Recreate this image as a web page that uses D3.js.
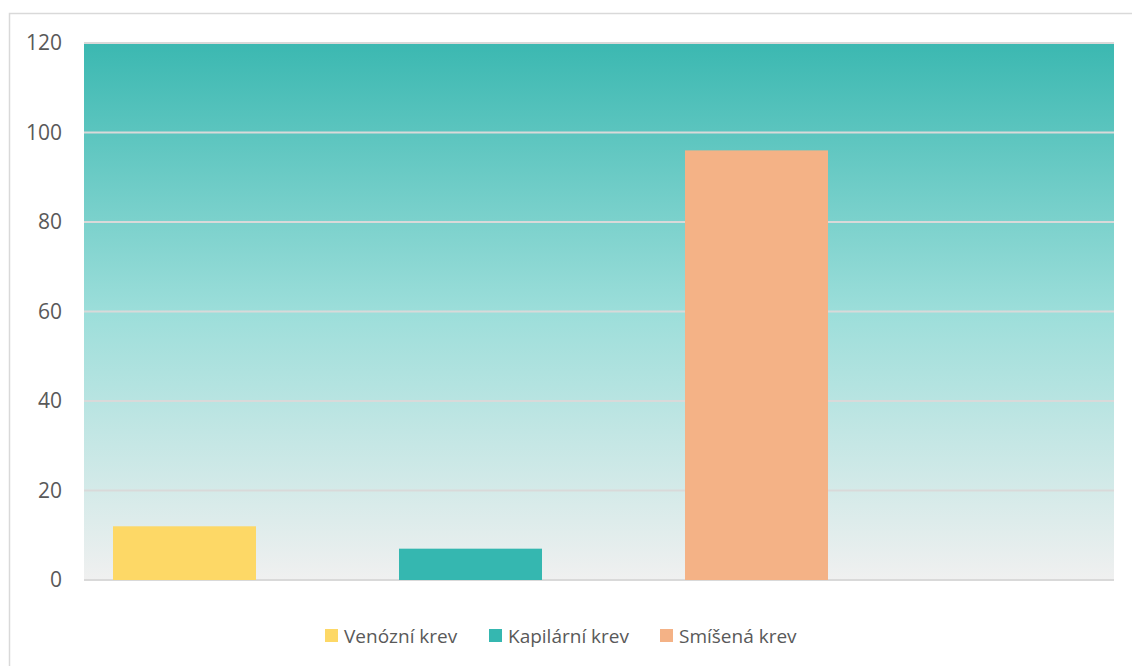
<!DOCTYPE html>
<html>
<head>
<meta charset="utf-8">
<script src="https://cdn.jsdelivr.net/npm/d3@7"></script>
<style>
  body { margin: 0; background: #fff; }
  svg { display: block; font-family: "Open Sans", sans-serif; }
</style>
</head>
<body>
<div id="chart"></div>
<script>
// data
const series = ['Venózní krev', 'Kapilární krev', 'Smíšená krev'];
const values = [12, 7, 96];
const colors = ['#fdd866', '#35b7b0', '#f4b286'];
const yTicks = [0, 20, 40, 60, 80, 100, 120];

const width = 1132;
const height = 666;
const margin = { left: 84, right: 18, top: 43, bottom: 86 };

const svg = d3.select('#chart').append('svg')
  .attr('width', width)
  .attr('height', height);

// outer chart border (runs off the right and bottom edge)
svg.append('rect')
  .attr('x', 9.5)
  .attr('y', 13.5)
  .attr('width', width)
  .attr('height', height)
  .attr('fill', '#fff')
  .attr('stroke', '#d9d9d9')
  .attr('stroke-width', 1.5);

const plotW = width - margin.left - margin.right;
const plotBottom = height - margin.bottom;

const y = d3.scaleLinear()
  .domain([0, 120])
  .range([plotBottom, margin.top]);

// bars sit in the left part of the plot, gap equals bar width
const x = d3.scaleBand()
  .domain(series)
  .range([margin.left + 29, margin.left + 744])
  .paddingInner(0.5)
  .paddingOuter(0);

const defs = svg.append('defs');
const grad = defs.append('linearGradient')
  .attr('id', 'bg')
  .attr('x1', 0).attr('y1', 0)
  .attr('x2', 0).attr('y2', 1);
grad.append('stop').attr('offset', '0%').attr('stop-color', '#3bb8b1');
grad.append('stop').attr('offset', '50%').attr('stop-color', '#9cdeda');
grad.append('stop').attr('offset', '100%').attr('stop-color', '#f0f0f0');

svg.append('rect')
  .attr('x', margin.left)
  .attr('y', margin.top)
  .attr('width', plotW)
  .attr('height', plotBottom - margin.top)
  .attr('fill', 'url(#bg)');

// grid
svg.append('g')
  .selectAll('line')
  .data(yTicks)
  .join('line')
  .attr('x1', margin.left)
  .attr('x2', margin.left + plotW)
  .attr('y1', (d) => y(d))
  .attr('y2', (d) => y(d))
  .attr('stroke', '#d9d9d9')
  .attr('stroke-width', 2);

// bars
svg.append('g')
  .selectAll('rect')
  .data(values)
  .join('rect')
  .attr('x', (d, i) => x(series[i]))
  .attr('y', (d) => y(d))
  .attr('width', x.bandwidth())
  .attr('height', (d) => y(0) - y(d))
  .attr('fill', (d, i) => colors[i]);

// y axis labels
const yAxis = svg.append('g')
  .attr('transform', `translate(${margin.left - 22},0)`)
  .call(d3.axisLeft(y).tickValues(yTicks).tickSize(0).tickPadding(0));
yAxis.select('.domain').remove();
yAxis.selectAll('text')
  .attr('font-size', 21)
  .attr('font-family', '"Open Sans", sans-serif')
  .attr('fill', '#595959');

// legend
const legendX = [325, 489, 660];
const legend = svg.append('g')
  .selectAll('g')
  .data(series)
  .join('g')
  .attr('transform', (d, i) => `translate(${legendX[i]},636)`);
legend.append('rect')
  .attr('x', 0)
  .attr('y', -7)
  .attr('width', 13)
  .attr('height', 13)
  .attr('fill', (d, i) => colors[i]);
legend.append('text')
  .attr('x', 19)
  .attr('dy', '0.36em')
  .attr('font-size', 19)
  .attr('fill', '#595959')
  .text((d) => d);
</script>
</body>
</html>
